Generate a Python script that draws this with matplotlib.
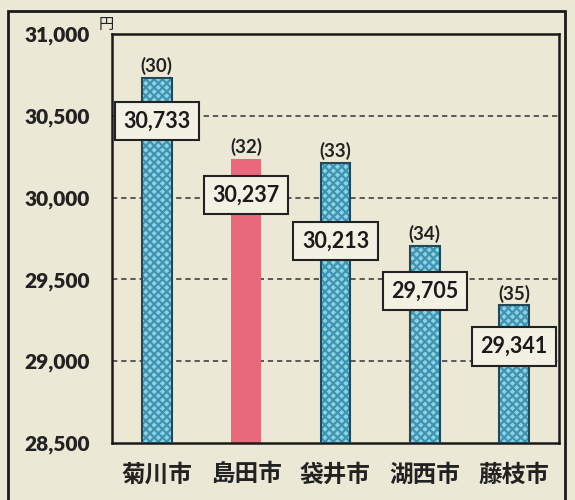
import matplotlib
matplotlib.use("Agg")
import matplotlib.pyplot as plt
from matplotlib.patches import Rectangle

plt.rcParams['font.family'] = ['Lato', 'Noto Sans CJK JP', 'DejaVu Sans']
plt.rcParams['hatch.linewidth'] = 1.6

cities = ['菊川市', '島田市', '袋井市', '湖西市', '藤枝市']
values = [30733, 30237, 30213, 29705, 29341]
ranks = ['(30)', '(32)', '(33)', '(34)', '(35)']
label_y = [30470, 30015, 29735, 29430, 29090]  # where the value boxes sit
highlight = 1  # 島田市

yticks = [28500, 29000, 29500, 30000, 30500, 31000]
ytick_labels = ['28,500', '29,000', '29,500', '30,000', '30,500', '31,000']

BG = '#ece8d6'
BLUE = '#8fd3e3'
BLUE_DOT = '#3f93b3'
PINK = '#e8687c'
EDGE = '#23485a'

fig = plt.figure(figsize=(5.75, 5.0), dpi=100, facecolor=BG)
ax = fig.add_axes([0.195, 0.114, 0.777, 0.818], facecolor=BG)

x = list(range(len(cities)))
width = 0.33
face = [PINK if i == highlight else BLUE for i in x]
hatch_col = [PINK if i == highlight else BLUE_DOT for i in x]

bars = ax.bar(x, [v - 28500 for v in values], width, bottom=28500,
              color=face, edgecolor=hatch_col, linewidth=0, hatch='xxxx', zorder=2)
for i, b in enumerate(bars):
    if i == highlight:
        b.set_hatch(None)
# dark outline on the blue bars
ax.bar([i for i in x if i != highlight],
       [values[i] - 28500 for i in x if i != highlight], width, bottom=28500,
       fill=False, edgecolor=EDGE, linewidth=1.5, zorder=3)

for yv in yticks[1:-1]:
    ax.axhline(yv, color='#333333', lw=1.1, ls=(0, (3.5, 2.5)), zorder=1)

for i in x:
    ax.annotate(ranks[i], (i, values[i]), xytext=(0, 2), textcoords='offset points',
                ha='center', va='bottom', fontsize=13.5, fontweight='bold', color='#222222', zorder=5)
    ax.text(i, label_y[i], f'{values[i]:,}', ha='center', va='center', fontsize=15.5,
            fontweight='bold', color='#1a1a1a', zorder=6, clip_on=False,
            bbox=dict(boxstyle='square,pad=0.4', facecolor='#f3f0e4', edgecolor='#222222', linewidth=1.5))

ax.set_xlim(-0.5, len(cities) - 0.5)
ax.set_ylim(28500, 31000)
ax.set_yticks(yticks)
ax.set_yticklabels(ytick_labels, fontsize=15, fontweight='heavy', color='#222222')
ax.set_xticks(x)
ax.set_xticklabels(cities, fontsize=17, fontweight='bold', color='#222222',
                   family=['Noto Sans CJK JP', 'DejaVu Sans'])
ax.tick_params(axis='y', length=0, pad=16)
ax.tick_params(axis='x', length=0, pad=14)
for s in ax.spines.values():
    s.set_color('#1a1a1a')
    s.set_linewidth(1.8)
ax.text(-0.031, 1.003, '円', transform=ax.transAxes, fontsize=11, color='#222222',
        family=['Noto Sans CJK JP'], ha='left', va='bottom')

# outer frame of the figure panel
fig.patches.append(Rectangle((8 / 575, -0.05), 557 / 575, 1.05 - 11 / 500, transform=fig.transFigure,
                             fill=False, edgecolor='#1a1a1a', linewidth=2.0, zorder=0))

fig.savefig('out.png', dpi=100, facecolor=BG)
